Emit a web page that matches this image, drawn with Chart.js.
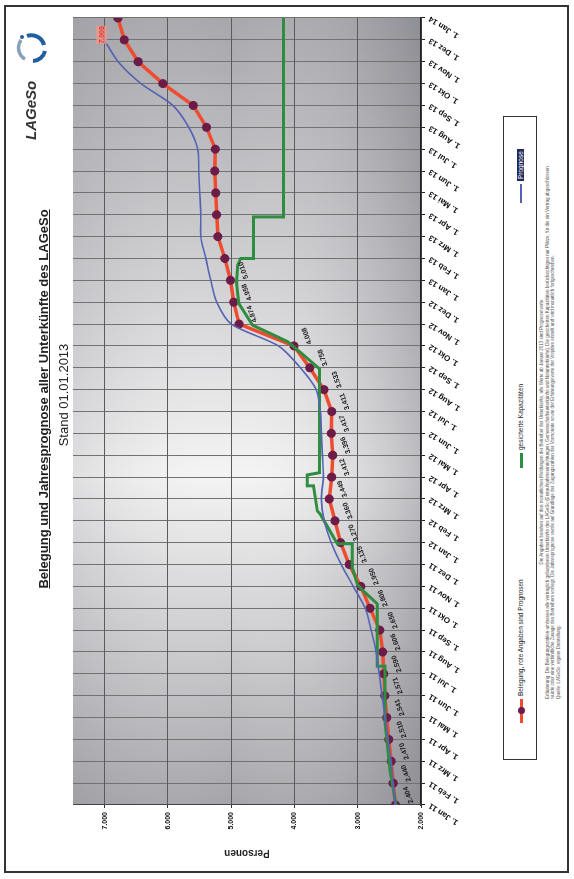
<!DOCTYPE html>
<html lang="de">
<head>
<meta charset="utf-8">
<title>Belegung und Jahresprognose aller Unterkünfte des LAGeSo</title>
<script src="https://cdn.jsdelivr.net/npm/chart.js@4.4.1/dist/chart.umd.min.js"></script>
<style>
  html, body { margin: 0; padding: 0; width: 574px; height: 879px; overflow: hidden; background: #fff; }
  /* the page is a landscape sheet turned on its side */
  #blatt { position: absolute; left: 0; top: 0; width: 879px; height: 574px;
           transform-origin: 0 0; transform: translateY(879px) rotate(-90deg);
           font-family: 'Liberation Sans', Arial, sans-serif; color: #222; }
  #rahmen { position: absolute; left: 6px; top: 4px; width: 868px; height: 565px; border: 2px solid #333; box-sizing: border-box; }
  #chart { position: absolute; left: 0; top: 0; }
  #titel { position: absolute; left: 240px; width: 480px; top: 36px; text-align: center;
           font: bold 13px 'Liberation Sans Narrow', 'Liberation Sans', Arial, sans-serif; text-decoration: underline; }
  #stand { position: absolute; left: 244px; width: 480px; top: 56px; text-align: center;
           font: 13px 'Liberation Sans Narrow', 'Liberation Sans', Arial, sans-serif; }
  #logo { position: absolute; left: 739px; top: 22px; font: italic bold 15px 'Liberation Sans Narrow', 'Liberation Sans', sans-serif; color: #333; }
  #logo-bild { position: absolute; left: 812px; top: 13px; }
  #legende { position: absolute; left: 119px; top: 503px; width: 644px; height: 34px; border: 1.5px solid #333; box-sizing: border-box; }
  .eintrag { position: absolute; top: 12px; height: 9px; font-size: 6.5px; line-height: 9px; white-space: nowrap; }
  .linie { display: inline-block; position: relative; width: 24px; height: 3px; vertical-align: middle; margin-right: 3px; }
  .punkt { position: absolute; left: 9px; top: -2px; width: 7px; height: 7px; border-radius: 50%; background: #6c1c47; }
  .markiert { background: #1f2a5a; color: #fff; padding: 0 2px; }
  #fuss { position: absolute; left: 180px; top: 539px; width: 535px; font-size: 4.5px; line-height: 5.6px; color: #555; }
  #fuss .mitte { text-align: center; }
</style>
</head>
<body>
<div id="blatt">
  <div id="rahmen"></div>
  <canvas id="chart" width="879" height="480"></canvas>
  <div id="titel">Belegung und Jahresprognose aller Unterkünfte des LAGeSo</div>
  <div id="stand">Stand 01.01.2013</div>
  <div id="logo">LAGeSo</div>
  <svg id="logo-bild" width="38" height="38" viewBox="0 0 38 38">
    <path d="M8 12 A13 13 0 0 1 27 8" fill="none" stroke="#8aa0b8" stroke-width="3.5"/>
    <path d="M31 14 A13 13 0 0 1 22 31" fill="none" stroke="#1f5fa0" stroke-width="4"/>
    <path d="M16 32 A13 13 0 0 1 6 20" fill="none" stroke="#1f5fa0" stroke-width="4"/>
    <circle cx="30" cy="9" r="2" fill="#1f5fa0"/>
  </svg>
  <div id="legende">
    <div class="eintrag" style="left:36px"><span class="linie" style="background:#ee4b2f"><i class="punkt"></i></span>Belegung, rote Angaben sind Prognosen</div>
    <div class="eintrag" style="left:291px"><span class="linie" style="background:#2f8d3f;width:15px"></span>gesicherte Kapazitäten</div>
    <div class="eintrag" style="left:556px"><span class="linie" style="background:#5563b3;height:2px;width:19px"></span><span class="markiert">Prognose</span></div>
  </div>
  <div id="fuss">
    <div class="mitte">Die Angaben beruhen auf den monatlichen Meldungen der Betreiber der Unterkünfte; alle Werte ab Januar 2013 sind Prognosewerte.</div>
    <div>Erläuterung: Die Belegungszahlen umfassen alle vertraglich gebundenen Unterkünfte des LAGeSo (Erstaufnahmeeinrichtungen, Gemeinschaftsunterkünfte und Notunterkünfte). Die gesicherten Kapazitäten berücksichtigen nur Plätze, für die ein Vertrag abgeschlossen wurde oder eine verbindliche Zusage des Betreibers vorliegt. Die Jahresprognose wurde auf Grundlage der Zugangszahlen der Vormonate sowie der Erfahrungswerte der Vorjahre erstellt und wird monatlich fortgeschrieben.</div>
    <div>Quelle: LAGeSo, eigene Darstellung.</div>
  </div>
</div>

<script>
// x axis: first of each month, Jan 2011 .. Jan 2014
const monate = ['1. Jan 11', '1. Feb 11', '1. Mrz 11', '1. Apr 11', '1. Mai 11', '1. Jun 11', '1. Jul 11', '1. Aug 11', '1. Sep 11', '1. Okt 11', '1. Nov 11', '1. Dez 11',
                '1. Jan 12', '1. Feb 12', '1. Mrz 12', '1. Apr 12', '1. Mai 12', '1. Jun 12', '1. Jul 12', '1. Aug 12', '1. Sep 12', '1. Okt 12', '1. Nov 12', '1. Dez 12',
                '1. Jan 13', '1. Feb 13', '1. Mrz 13', '1. Apr 13', '1. Mai 13', '1. Jun 13', '1. Jul 13', '1. Aug 13', '1. Sep 13', '1. Okt 13', '1. Nov 13', '1. Dez 13',
                '1. Jan 14'];

// y axis ticks (Personen)
const personenTicks = [2000, 3000, 4000, 5000, 6000, 7000];

// Belegung (red), values from Feb 13 on are forecasts
const belegung = [2404, 2440, 2470, 2510, 2541, 2571, 2590, 2606, 2650, 2806, 2950, 3135,
                  3270, 3360, 3449, 3412, 3396, 3417, 3411, 3533, 3758, 4008, 4874, 4958,
                  5010, 5100, 5210, 5230, 5245, 5260, 5250, 5390, 5600, 6080, 6470, 6690,
                  6790];
const letzterIstWert = 24;

// blue line
const prognose = [2409, 2441, 2472, 2520, 2567, 2614, 2661, 2709, 2787, 2882, 3071, 3260,
                  3417, 3528, 3575, 3543, 3559, 3575, 3590, 3654, 3905, 4252, 5000, 5228,
                  5323, 5400, 5480, 5480, 5496, 5512, 5528, 5670, 5921, 6425, 6787, 7008,
                  null];

// gesicherte Kapazitäten (green), x = month position
const kapX = [0, 1.5, 3.8, 6.35, 6.35, 9.2, 9.8, 10.1, 10.85, 11.95, 11.95, 12.5, 13.3, 13.45, 14.6, 14.6,
              15.1, 15.2, 19.95, 20.7, 21.2, 21.95, 22.95, 23.9, 24.7, 25, 25, 26.9, 26.9, 36];
const kapY = [2394, 2488, 2567, 2567, 2693, 2693, 2914, 3008, 3087, 3087, 3323, 3433, 3591, 3638, 3701, 3796,
              3796, 3606, 3606, 3906, 4110, 4662, 4882, 4914, 4898, 4850, 4646, 4646, 4173, 4173];

function zahl(n) {
    return String(Math.round(n)).replace(/\B(?=(\d{3})+(?!\d))/g, '.');
}

Chart.defaults.font.family = "'Liberation Sans', Arial, sans-serif";

const hintergrund = {
    id: 'hintergrund',
    beforeDraw(chart) {
        const ctx = chart.ctx;
        const a = chart.chartArea;
        ctx.save();
        let g = ctx.createLinearGradient(a.left, 0, a.right, 0);
        g.addColorStop(0, '#a4a4a9');
        g.addColorStop(0.2, '#cbcbce');
        g.addColorStop(0.42, '#f4f4f4');
        g.addColorStop(0.66, '#d2d2d5');
        g.addColorStop(1, '#a6a6ab');
        ctx.fillStyle = g;
        ctx.fillRect(a.left, a.top, a.width, a.height);
        g = ctx.createLinearGradient(0, a.top, 0, a.bottom);
        g.addColorStop(0, 'rgba(140,140,148,0.2)');
        g.addColorStop(0.45, 'rgba(255,255,255,0)');
        g.addColorStop(1, 'rgba(105,105,115,0.4)');
        ctx.fillStyle = g;
        ctx.fillRect(a.left, a.top, a.width, a.height);
        ctx.restore();
    }
};

const werte = {
    id: 'werte',
    afterDatasetsDraw(chart) {
        const ctx = chart.ctx;
        const punkte = chart.getDatasetMeta(2).data;
        ctx.save();
        ctx.font = "bold 7px 'Liberation Sans Narrow', 'Liberation Sans', sans-serif";
        ctx.fillStyle = '#1b1b1b';
        ctx.textAlign = 'center';
        ctx.textBaseline = 'middle';
        punkte.forEach((p, i) => {
            if (i > letzterIstWert) return;
            ctx.save();
            ctx.translate(p.x + 10, p.y + 13);
            ctx.rotate(-20 * Math.PI / 180);
            ctx.fillText(zahl(belegung[i]), 0, 0);
            ctx.restore();
        });
        // red forecast label at the end of the blue line
        const ende = chart.getDatasetMeta(0).data[35];
        ctx.fillStyle = 'rgba(246,150,140,0.75)';
        ctx.fillRect(ende.x - 4, ende.y - 8, 18, 11);
        ctx.fillStyle = '#e0392c';
        ctx.fillText(zahl(prognose[35]), ende.x + 5, ende.y - 2);
        ctx.restore();
    }
};

new Chart(document.getElementById('chart'), {
    type: 'line',
    data: {
        datasets: [{
            label: 'Prognose',
            data: monate.map((m, i) => ({x: i, y: prognose[i]})),
            borderColor: '#5563b3',
            borderWidth: 1.6,
            pointRadius: 0,
            tension: 0.25
        }, {
            label: 'gesicherte Kapazitäten',
            data: kapX.map((x, i) => ({x: x, y: kapY[i]})),
            borderColor: '#2f8d3f',
            borderWidth: 3,
            pointRadius: 0,
            tension: 0
        }, {
            label: 'Belegung, rote Angaben sind Prognosen',
            data: monate.map((m, i) => ({x: i, y: belegung[i]})),
            borderColor: '#ee4b2f',
            borderWidth: 3.5,
            pointRadius: 2.8,
            pointBackgroundColor: '#6c1c47',
            pointBorderColor: '#6c1c47',
            tension: 0
        }]
    },
    options: {
        responsive: false,
        animation: false,
        layout: {
            padding: {left: 20, right: 18, top: 73, bottom: 0}
        },
        plugins: {
            legend: {display: false},
            tooltip: {enabled: false}
        },
        scales: {
            x: {
                type: 'linear',
                min: 0,
                max: 36,
                afterFit(s) { s.height = 59; },
                ticks: {
                    stepSize: 1,
                    autoSkip: false,
                    minRotation: 57,
                    maxRotation: 57,
                    padding: 2,
                    color: '#111',
                    font: {size: 8, weight: 'bold'},
                    callback: (v) => monate[Math.round(v)]
                },
                grid: {color: '#727272', tickColor: '#222', tickLength: 4},
                border: {color: '#1e1e1e', width: 1.5}
            },
            y: {
                min: 2000,
                max: 7500,
                afterFit(s) { s.width = 54; },
                afterBuildTicks(s) { s.ticks = personenTicks.map((v) => ({value: v})); },
                ticks: {
                    padding: 4,
                    color: '#111',
                    font: {size: 7, weight: 'bold'},
                    callback: (v) => zahl(v)
                },
                grid: {color: '#5b5b5b', tickColor: '#333', tickLength: 3},
                border: {color: '#444'},
                title: {
                    display: true,
                    text: 'Personen',
                    color: '#222',
                    font: {size: 10, weight: 'bold'},
                    padding: {top: 0, bottom: 2}
                }
            }
        }
    },
    plugins: [hintergrund, werte]
});
</script>
</body>
</html>
